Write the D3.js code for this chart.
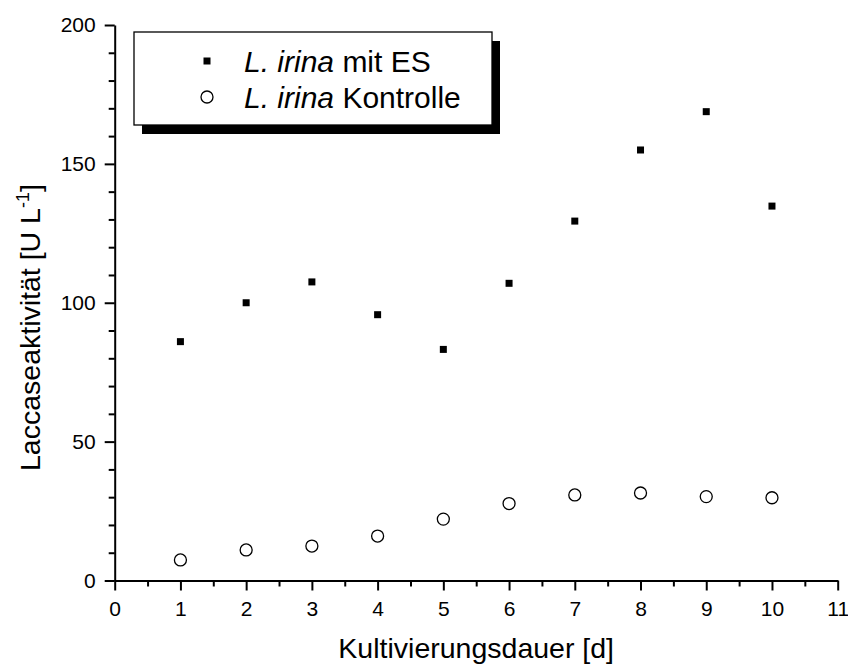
<!DOCTYPE html>
<html>
<head>
<meta charset="utf-8">
<script src="https://cdn.jsdelivr.net/npm/d3@7"></script>
<style>
  html, body { margin: 0; padding: 0; background: #fff; }
  svg { display: block; font-family: Arial, "Liberation Sans", sans-serif; }
</style>
</head>
<body>
<svg id="chart" width="848" height="666"></svg>
<script>
// Cultivation day
const days = [1, 2, 3, 4, 5, 6, 7, 8, 9, 10];
// Laccase activity [U/L] with extract supplement
const withES = [86, 100, 107.5, 95.7, 83.2, 107, 129.4, 155, 168.8, 134.8];
// Laccase activity [U/L] control
const control = [7.4, 11, 12.4, 16, 22.1, 27.7, 30.8, 31.5, 30.2, 29.8];

const xTicks = [0, 1, 2, 3, 4, 5, 6, 7, 8, 9, 10, 11];
const yTicks = [0, 50, 100, 150, 200];

const FONT = "Arial, 'Liberation Sans', sans-serif";
const svg = d3.select("#chart");

const x = d3.scaleLinear().domain([0, 11]).range([114.7, 837.7]);
const y = d3.scaleLinear().domain([0, 200]).range([580.5, 25]);

// minor ticks
const xMinor = d3.range(0.5, 11, 1);
const yMinor = d3.range(0, 201, 10).filter(v => v % 50 !== 0);

const gx = svg.append("g").attr("transform", `translate(0,${y(0)})`);
gx.call(d3.axisBottom(x).tickValues(xMinor).tickSize(6).tickSizeOuter(0).tickFormat(""));
gx.selectAll(".tick line").attr("stroke-width", 2);
gx.select(".domain").remove();
const gx2 = svg.append("g").attr("transform", `translate(0,${y(0)})`);
gx2.call(d3.axisBottom(x).tickValues(xTicks).tickSize(10).tickSizeOuter(0).tickPadding(11));
gx2.select(".domain").attr("stroke-width", 2);
gx2.selectAll(".tick line").attr("stroke-width", 2);
gx2.selectAll(".tick text").attr("font-size", 21).attr("fill", "#000").attr("font-family", FONT);

const gy = svg.append("g").attr("transform", `translate(${x(0)},0)`);
gy.call(d3.axisLeft(y).tickValues(yMinor).tickSize(6).tickSizeOuter(0).tickFormat(""));
gy.selectAll(".tick line").attr("stroke-width", 2);
gy.select(".domain").remove();
const gy2 = svg.append("g").attr("transform", `translate(${x(0)},0)`);
gy2.call(d3.axisLeft(y).tickValues(yTicks).tickSize(10).tickSizeOuter(0).tickPadding(9));
gy2.select(".domain").attr("stroke-width", 2);
gy2.selectAll(".tick line").attr("stroke-width", 2);
gy2.selectAll(".tick text").attr("font-size", 21).attr("fill", "#000").attr("font-family", FONT);

// axis titles
svg.append("text")
  .attr("x", (x(0) + x(11)) / 2)
  .attr("y", 658)
  .attr("text-anchor", "middle")
  .attr("font-size", 28.5)
  .text("Kultivierungsdauer [d]");

const yt = svg.append("text")
  .attr("transform", "translate(40,471) rotate(-90)")
  .attr("text-anchor", "start")
  .attr("font-size", 28.5);
yt.append("tspan").text("Laccaseaktivität [U L");
yt.append("tspan").attr("font-size", 18).attr("dy", -11).text("-1");
yt.append("tspan").attr("dy", 11).text("]");

// data marks
svg.append("g").selectAll("rect")
  .data(days.map((d, i) => [d, withES[i]]))
  .join("rect")
  .attr("x", d => x(d[0]) - 3.5)
  .attr("y", d => y(d[1]) - 3.5)
  .attr("width", 7)
  .attr("height", 7)
  .attr("fill", "#000");

svg.append("g").selectAll("circle")
  .data(days.map((d, i) => [d, control[i]]))
  .join("circle")
  .attr("cx", d => x(d[0]))
  .attr("cy", d => y(d[1]))
  .attr("r", 6)
  .attr("fill", "#fff")
  .attr("stroke", "#000")
  .attr("stroke-width", 1.3);

// legend with drop shadow
const lg = svg.append("g");
lg.append("rect").attr("x", 142).attr("y", 41).attr("width", 358).attr("height", 93).attr("fill", "#000");
lg.append("rect").attr("x", 134).attr("y", 32).attr("width", 358).attr("height", 93)
  .attr("fill", "#fff").attr("stroke", "#000").attr("stroke-width", 1.3);

lg.append("rect").attr("x", 207 - 3.5).attr("y", 61 - 3.5).attr("width", 7).attr("height", 7).attr("fill", "#000");
lg.append("circle").attr("cx", 207).attr("cy", 97).attr("r", 6)
  .attr("fill", "#fff").attr("stroke", "#000").attr("stroke-width", 1.3);

const t1 = lg.append("text").attr("x", 244).attr("y", 72).attr("font-size", 30);
t1.append("tspan").attr("font-style", "italic").text("L. irina");
t1.append("tspan").text(" mit ES");
const t2 = lg.append("text").attr("x", 244).attr("y", 108).attr("font-size", 30);
t2.append("tspan").attr("font-style", "italic").text("L. irina");
t2.append("tspan").text(" Kontrolle");
</script>
</body>
</html>
